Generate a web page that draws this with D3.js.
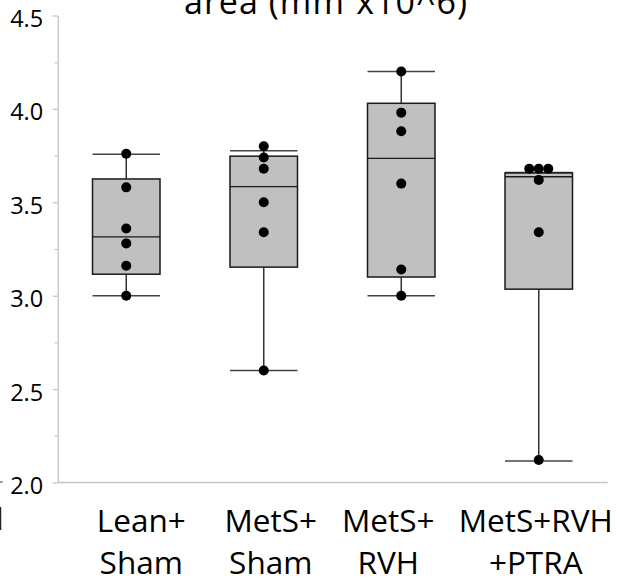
<!DOCTYPE html>
<html>
<head>
<meta charset="utf-8">
<script src="https://cdn.jsdelivr.net/npm/d3@7"></script>
<style>
  body { margin: 0; background: #fff; }
  text { font-family: "Open Sans", "Noto Sans", sans-serif; fill: #000; }
</style>
</head>
<body>
<div id="showdata"></div>
<script>
// groups, two-line labels
var groups = ["Lean+ Sham", "MetS+ Sham", "MetS+ RVH", "MetS+RVH +PTRA"];
var groupLines = [["Lean+", "Sham"], ["MetS+", "Sham"], ["MetS+", "RVH"], ["MetS+RVH", "+PTRA"]];

// individual animals
var leanSham = [3.00, 3.16, 3.28, 3.36, 3.58, 3.76];
var metsSham = [2.60, 3.34, 3.50, 3.68, 3.74, 3.80];
var metsRvh  = [3.00, 3.14, 3.60, 3.88, 3.98, 4.20];
var metsPtra = [2.12, 3.34, 3.62, 3.68, 3.68, 3.68];

// box stats as drawn (whisker low, q1, median, q3, whisker high)
var whiskLo = [3.00, 2.60, 3.00, 2.115];
var q1      = [3.115, 3.153, 3.100, 3.035];
var median  = [3.315, 3.584, 3.735, 3.637];
var q3      = [3.625, 3.747, 4.030, 3.657];
var whiskHi = [3.757, 3.776, 4.200, 3.660];

var yTicks = [2.0, 2.5, 3.0, 3.5, 4.0, 4.5];
var yMinor = [2.25, 2.75, 3.25, 3.75, 4.25];

var svg_width = 620;
var svg_height = 581;
var mysvg = d3.select("#showdata")
  .append("svg")
  .attr("width", svg_width)
  .attr("height", svg_height);

var x = d3.scalePoint().domain(groups).range([57.5, 607.5]).padding(0.5);
var y = d3.scaleLinear().domain([2, 4.5]).range([482.5, 15.5]);
var box_w = 67.5;
var axisCol = "#c4c4c4";
// labels were hand placed, not exactly under the boxes
var labShift = [15, 7, -13, -3];

var series = [leanSham, metsSham, metsRvh, metsPtra];
var boxes = groups.map(function(g, i){
  return {g: g, lo: whiskLo[i], q1: q1[i], med: median[i], q3: q3[i], hi: whiskHi[i], pts: series[i]};
});

// y axis
var yAxis = mysvg.append("g")
  .attr("transform", "translate(57.7,0)")
  .call(d3.axisLeft(y).tickValues(yTicks).tickSize(5).tickSizeOuter(0).tickPadding(9.5).tickFormat(d3.format(".1f")));
yAxis.select(".domain").attr("stroke", axisCol).attr("stroke-width", 1.3);
yAxis.selectAll(".tick line").attr("stroke", axisCol).attr("stroke-width", 1.3);
yAxis.selectAll(".tick text").attr("font-size", 23.5).attr("dy", "0.47em")
  .style("font-family", "'Open Sans', sans-serif").attr("fill", "#111");

mysvg.append("g")
  .attr("transform", "translate(57.7,0)")
  .call(d3.axisLeft(y).tickValues(yMinor).tickSize(3).tickFormat(""))
  .call(function(g){
    g.select(".domain").remove();
    g.selectAll(".tick line").attr("stroke", axisCol).attr("stroke-width", 1.2);
  });

// baseline
mysvg.append("line")
  .attr("x1", 57.7).attr("x2", 607.7)
  .attr("y1", y(2)).attr("y2", y(2))
  .attr("stroke", axisCol).attr("stroke-width", 1.3);

// whiskers
var bx = mysvg.selectAll("g.box")
  .data(boxes)
  .enter()
  .append("g")
  .attr("class", "box");

bx.append("line")
  .attr("x1", function(d){ return x(d.g); })
  .attr("x2", function(d){ return x(d.g); })
  .attr("y1", function(d){ return y(d.lo); })
  .attr("y2", function(d){ return y(d.hi); })
  .attr("stroke", "#333").attr("stroke-width", 1.5);

bx.selectAll("line.cap")
  .data(function(d){ return [{g: d.g, v: d.lo}, {g: d.g, v: d.hi}]; })
  .enter()
  .append("line")
  .attr("class", "cap")
  .attr("x1", function(d){ return x(d.g) - box_w/2; })
  .attr("x2", function(d){ return x(d.g) + box_w/2; })
  .attr("y1", function(d){ return y(d.v); })
  .attr("y2", function(d){ return y(d.v); })
  .attr("stroke", "#444").attr("stroke-width", 1.5);

bx.append("rect")
  .attr("x", function(d){ return x(d.g) - box_w/2; })
  .attr("y", function(d){ return y(d.q3); })
  .attr("width", box_w)
  .attr("height", function(d){ return y(d.q1) - y(d.q3); })
  .attr("fill", "#c0c0c0")
  .attr("stroke", "#1a1a1a").attr("stroke-width", 1.5);

bx.append("line")
  .attr("x1", function(d){ return x(d.g) - box_w/2; })
  .attr("x2", function(d){ return x(d.g) + box_w/2; })
  .attr("y1", function(d){ return y(d.med); })
  .attr("y2", function(d){ return y(d.med); })
  .attr("stroke", "#1a1a1a").attr("stroke-width", 1.4);

// points, identical values spread sideways
bx.selectAll("circle")
  .data(function(d){
    return d.pts.map(function(v, i){
      var same = d.pts.filter(function(w){ return w == v; });
      var k = d.pts.slice(0, i).filter(function(w){ return w == v; }).length;
      return {g: d.g, v: v, off: (k - (same.length - 1)/2) * 9.5};
    });
  })
  .enter()
  .append("circle")
  .attr("cx", function(d){ return x(d.g) + d.off; })
  .attr("cy", function(d){ return y(d.v); })
  .attr("r", 5)
  .attr("fill", "#000");

// category labels
var lab = mysvg.selectAll("text.cat")
  .data(groups)
  .enter()
  .append("text")
  .attr("class", "cat")
  .attr("text-anchor", "middle")
  .attr("font-size", 31.5);
lab.each(function(d, i){
  var t = d3.select(this);
  groupLines[i].forEach(function(s, j){
    t.append("tspan")
      .attr("x", x(d) + labShift[i])
      .attr("y", 531.7 + j*42)
      .text(s);
  });
});

// title (first line is cut off by the crop)
var title = mysvg.append("text")
  .attr("x", 184).attr("y", 14)
  .attr("font-size", 34)
  .attr("textLength", 283)
  .attr("lengthAdjust", "spacing");
title.append("tspan").text("area (mm");
title.append("tspan").attr("dy", -24).attr("font-size", 18).text("2");
title.append("tspan").attr("dy", 24).text("x10^6)");

// fragments of the neighbouring panel at the left edge
mysvg.append("line").attr("x1", 0).attr("x2", 2.7).attr("y1", 482).attr("y2", 482)
  .attr("stroke", "#555").attr("stroke-width", 1.2);
mysvg.append("line").attr("x1", 0.5).attr("x2", 0.5).attr("y1", 507).attr("y2", 530)
  .attr("stroke", "#222").attr("stroke-width", 1.5);
</script>
</body>
</html>
